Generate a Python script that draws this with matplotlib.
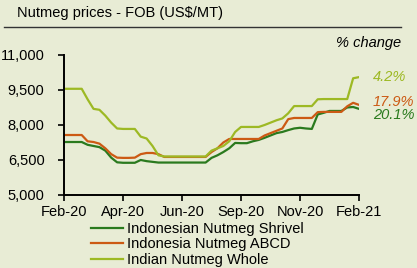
import matplotlib
matplotlib.use("Agg")
from matplotlib import pyplot as plt

plt.rcParams['font.family'] = ['Liberation Sans', 'DejaVu Sans']

semanas = list(range(51))

shrivel = [7270, 7270, 7270, 7270, 7150, 7100, 7050, 6900, 6600, 6400,
           6380, 6380, 6380, 6500, 6450, 6420, 6390, 6390, 6390, 6390,
           6390, 6390, 6390, 6390, 6390, 6590, 6700, 6840, 7000, 7230,
           7220, 7220, 7300, 7360, 7450, 7550, 7650, 7700, 7780, 7850,
           7880, 7850, 7830, 8450, 8520, 8600, 8600, 8600, 8750, 8770,
           8690]

abcd = [7570, 7570, 7570, 7570, 7300, 7270, 7200, 7000, 6750, 6600,
        6590, 6590, 6600, 6750, 6800, 6800, 6750, 6630, 6630, 6630,
        6630, 6630, 6630, 6630, 6630, 6840, 7000, 7250, 7400, 7400,
        7400, 7400, 7400, 7400, 7550, 7650, 7750, 7850, 8250, 8300,
        8300, 8300, 8300, 8550, 8560, 8560, 8560, 8560, 8800, 8950,
        8860]

whole = [9550, 9550, 9550, 9550, 9100, 8690, 8650, 8400, 8100, 7850,
         7830, 7830, 7830, 7500, 7420, 7100, 6700, 6650, 6650, 6650,
         6650, 6650, 6650, 6650, 6650, 6900, 7000, 7100, 7300, 7700,
         7915, 7915, 7915, 7915, 8000, 8100, 8200, 8280, 8500, 8810,
         8810, 8810, 8810, 9100, 9110, 9110, 9110, 9110, 9110, 10000,
         10050]

rotulos_x = ["Feb-20", "Apr-20", "Jun-20", "Sep-20", "Nov-20", "Feb-21"]
posicoes_x = [0, 10, 20, 30, 40, 50]
ticks_y = [5000, 6500, 8000, 9500, 11000]

series = [
    ("Indonesian Nutmeg Shrivel", shrivel, "#2a7a1e", "20.1%", 8420),
    ("Indonesia Nutmeg ABCD", abcd, "#cc5a14", "17.9%", 8980),
    ("Indian Nutmeg Whole", whole, "#9db924", "4.2%", 10060),
]

fundo = "#e8ecd5"
fig = plt.figure(figsize=(4.17, 2.68), dpi=100)
fig.patch.set_facecolor(fundo)
ax = fig.add_axes([0.1535, 0.2724, 0.7075, 0.5226])
ax.set_facecolor(fundo)

linhas = []
for nome, vals, cor, pct, ypct in series:
    l, = ax.plot(semanas, vals, color=cor, linewidth=1.6, label=nome)
    linhas.append(l)
    # percentual na direita
    ax.text(1.047, ypct, pct, color=cor, fontsize=10.5, style="italic",
            ha="left", va="center", transform=ax.get_yaxis_transform())

ax.set_xlim(0, 50)
ax.set_ylim(5000, 11000)
ax.set_xticks(posicoes_x)
ax.set_xticklabels(rotulos_x)
ax.set_yticks(ticks_y)
ax.set_yticklabels([f"{v:,}" for v in ticks_y])
ax.tick_params(labelsize=10.5, length=4, width=1.2, colors="black")
ax.tick_params(axis="y", pad=10)
ax.tick_params(axis="x", pad=3)
for s in ["top", "right"]:
    ax.spines[s].set_visible(False)
for s in ["left", "bottom"]:
    ax.spines[s].set_linewidth(1.4)

fig.text(0.9616, 0.8396, "% change", fontsize=10.5, style="italic", ha="right", va="center")

fig.text(0.041, 0.951, "Nutmeg prices - FOB (US$/MT)", fontsize=10.5, va="center")
fig.add_artist(plt.Line2D([0.0096, 0.9616], [0.899, 0.899], color="#333333", linewidth=1))

fig.legend(handles=linhas, loc="upper left", bbox_to_anchor=(0.218, 0.172),
           frameon=False, fontsize=10.5, handlelength=2.2, handletextpad=0.3,
           labelspacing=0.1, borderaxespad=0, borderpad=0)

fig.savefig("out.png", dpi=100, facecolor=fundo)
